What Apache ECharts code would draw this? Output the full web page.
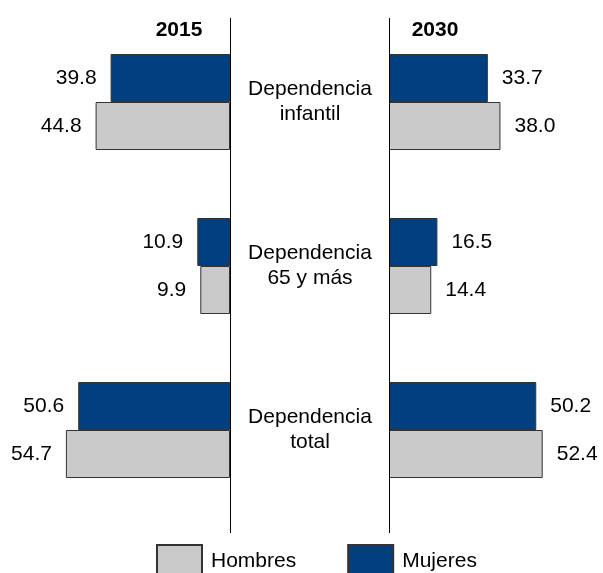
<!DOCTYPE html>
<html>
<head>
<meta charset="utf-8">
<script src="https://cdn.jsdelivr.net/npm/echarts@6/dist/echarts.min.js"></script>
<style>
  html, body { margin: 0; padding: 0; background: #fff; }
  #chart { width: 603px; height: 573px; }
</style>
</head>
<body>
<div id="chart"></div>
<script>
const categories = ['Dependencia\ninfantil', 'Dependencia\n65 y más', 'Dependencia\ntotal'];
const years = ['2015', '2030'];
const mujeres2015 = [39.8, 10.9, 50.6];
const hombres2015 = [44.8, 9.9, 54.7];
const mujeres2030 = [33.7, 16.5, 50.2];
const hombres2030 = [38.0, 14.4, 52.4];

const FONT = 'Liberation Sans, Arial, sans-serif';
const BLUE = '#023F7E';
const GRAY = '#CACACA';

const chart = echarts.init(document.getElementById('chart'));

function barSeries(name, data, idx, color, side) {
  return {
    name: name,
    type: 'bar',
    xAxisIndex: idx,
    yAxisIndex: idx,
    data: data,
    barWidth: 48,
    barGap: '0%',
    itemStyle: { color: color, borderColor: '#333', borderWidth: 1 },
    label: {
      show: true,
      position: side,
      distance: 14,
      fontFamily: FONT,
      fontSize: 21,
      color: '#000',
      formatter: p => p.value.toFixed(1)
    }
  };
}

const option = {
  animation: false,
  backgroundColor: '#fff',
  title: [
    { text: years[0], left: 174, top: 15, textAlign: 'center',
      textStyle: { fontFamily: FONT, fontSize: 21, fontWeight: 'bold', color: '#000' } },
    { text: years[1], left: 430, top: 15, textAlign: 'center',
      textStyle: { fontFamily: FONT, fontSize: 21, fontWeight: 'bold', color: '#000' } }
  ],
  legend: {
    data: ['Hombres', 'Mujeres'],
    left: 156,
    top: 544,
    padding: 0,
    itemWidth: 45,
    itemHeight: 32,
    itemGap: 51,
    icon: 'rect',
    textStyle: { fontFamily: FONT, fontSize: 21, color: '#000', padding: [0, 0, 0, 4] }
  },
  grid: [
    { left: 50, width: 180, top: 20, height: 492 },
    { left: 389, width: 176, top: 20, height: 492 }
  ],
  xAxis: [
    { gridIndex: 0, type: 'value', min: 0, max: 60, inverse: true, show: false },
    { gridIndex: 1, type: 'value', min: 0, max: 60, show: false }
  ],
  yAxis: [
    {
      gridIndex: 0, type: 'category', data: categories, inverse: true, position: 'right',
      axisLine: { show: false }, axisTick: { show: false },
      axisLabel: {
        margin: 80, align: 'center', fontFamily: FONT, fontSize: 21,
        lineHeight: 25, padding: [5, 0, 0, 0], color: '#000'
      }
    },
    {
      gridIndex: 1, type: 'category', data: categories, inverse: true,
      axisLine: { show: false }, axisTick: { show: false }, axisLabel: { show: false }
    }
  ],
  series: [
    barSeries('Mujeres', mujeres2015, 0, BLUE, 'left'),
    barSeries('Hombres', hombres2015, 0, GRAY, 'left'),
    barSeries('Mujeres', mujeres2030, 1, BLUE, 'right'),
    barSeries('Hombres', hombres2030, 1, GRAY, 'right')
  ]
};
chart.setOption(option);

// vertical base lines at the zero of each value axis
const x0 = chart.convertToPixel({ xAxisIndex: 0 }, 0);
const x1 = chart.convertToPixel({ xAxisIndex: 1 }, 0);
chart.setOption({
  graphic: [x0, x1].map(x => ({
    type: 'line',
    z: 10,
    shape: { x1: Math.round(x) + 0.5, y1: 18, x2: Math.round(x) + 0.5, y2: 533 },
    style: { stroke: '#000', lineWidth: 1 }
  }))
});
</script>
</body>
</html>
